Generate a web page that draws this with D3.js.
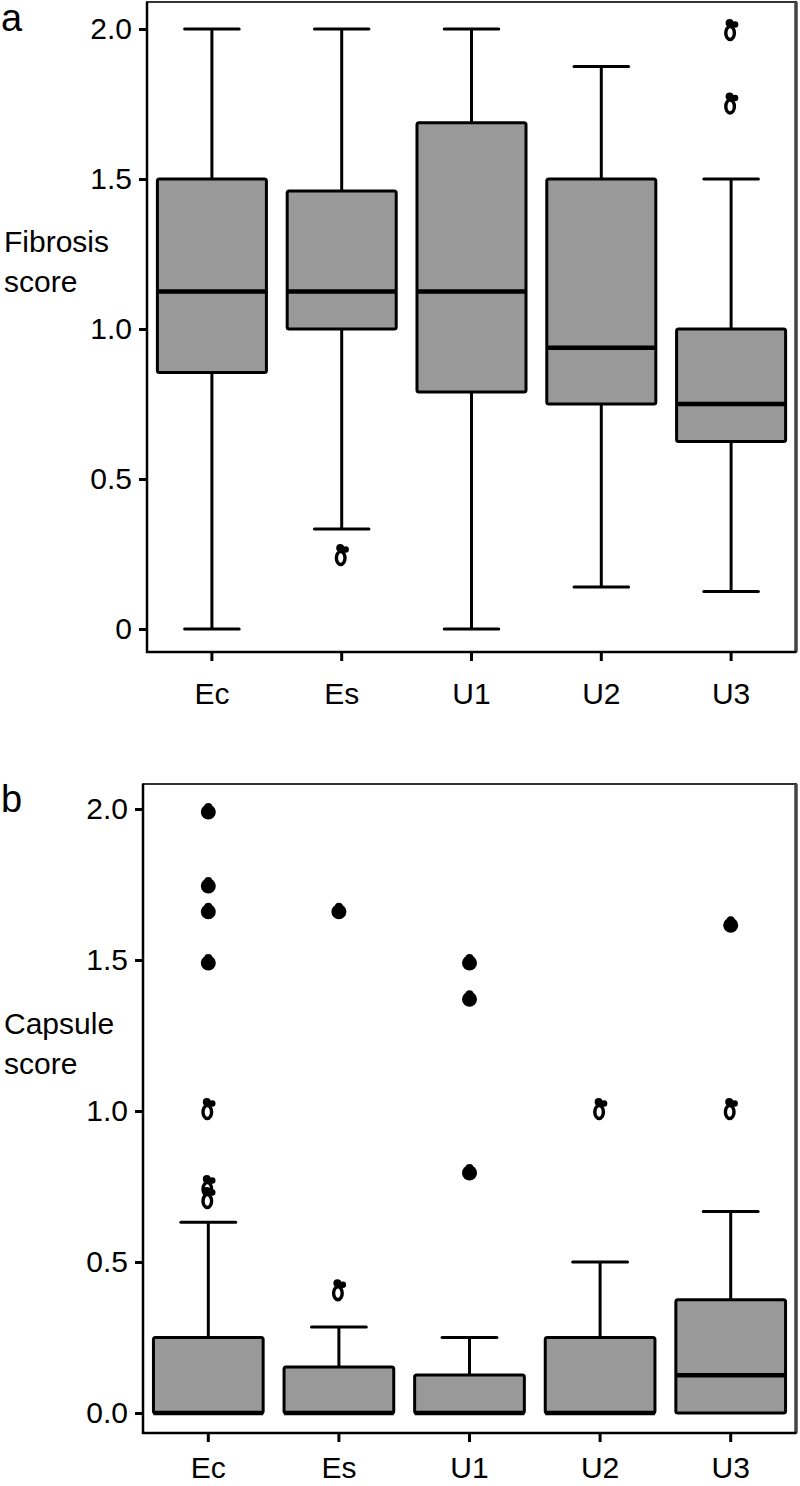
<!DOCTYPE html>
<html>
<head>
<meta charset="utf-8">
<script src="https://cdn.jsdelivr.net/npm/d3@7/dist/d3.min.js"></script>
<style>
  html, body { margin: 0; padding: 0; background: #fff; }
  svg { display: block; font-family: "Liberation Sans", Arial, Helvetica, sans-serif; }
</style>
</head>
<body>
<svg id="chart" width="800" height="1486"></svg>
<script>
(function () {
    'use strict';

    const groups = ['Ec', 'Es', 'U1', 'U2', 'U3'];

    // panel a: fibrosis score
    const fibLow = [0, 0.333, 0, 0.14, 0.125];
    const fibQ1 = [0.855, 1.0, 0.79, 0.75, 0.625];
    const fibMedian = [1.125, 1.125, 1.125, 0.9375, 0.75];
    const fibQ3 = [1.5, 1.46, 1.6875, 1.5, 1.0];
    const fibHigh = [2.0, 2.0, 2.0, 1.875, 1.5];
    const fibOutGroup = ['Es', 'U3', 'U3'];
    const fibOutValue = [0.25, 2.0, 1.755];
    const fibOutKind = ['cluster', 'cluster', 'cluster'];
    const fibTicks = [0, 0.5, 1.0, 1.5, 2.0];
    const fibTickLabels = ['0', '0.5', '1.0', '1.5', '2.0'];

    // panel b: capsule score
    const capLow = [0, 0, 0, 0, 0];
    const capQ1 = [0, 0, 0, 0, 0];
    const capMedian = [0, 0, 0, 0, 0.125];
    const capQ3 = [0.25, 0.152, 0.126, 0.25, 0.375];
    const capHigh = [0.632, 0.285, 0.25, 0.5, 0.667];
    const capOutGroup = ['Ec', 'Ec', 'Ec', 'Ec', 'Ec', 'Ec', 'Ec', 'Es', 'Es', 'U1', 'U1', 'U1', 'U2', 'U3', 'U3'];
    const capOutValue = [1.99, 1.745, 1.66, 1.49, 1.01, 0.755, 0.715, 1.66, 0.41, 1.49, 1.37, 0.795, 1.01, 1.615, 1.01];
    const capOutKind = ['dot', 'dot', 'dot', 'dot', 'cluster', 'cluster', 'cluster', 'dot', 'cluster', 'dot', 'dot', 'dot', 'cluster', 'dot', 'cluster'];
    const capTicks = [0, 0.5, 1.0, 1.5, 2.0];
    const capTickLabels = ['0.0', '0.5', '1.0', '1.5', '2.0'];

    const svg = d3.select('#chart');
    const ink = '#000';
    const boxFill = '#999999';

    const drawPanel = function (p) {
        const g = svg.append('g').attr('class', 'panel');

        const x = d3.scaleBand().domain(groups).range([p.left, p.right]).padding(0);
        const y = d3.scaleLinear().domain([0, 2]).range([p.zeroY, p.twoY]);
        const bw = x.bandwidth();
        const boxW = bw * 0.84;
        const capW = bw * 0.42;

        // panel border
        g.append('rect')
            .attr('x', p.left).attr('y', p.top)
            .attr('width', p.right - p.left).attr('height', p.bottom - p.top)
            .attr('fill', '#fff').attr('stroke', '#333').attr('stroke-width', 2);
        g.append('line')
            .attr('x1', p.right).attr('x2', p.right).attr('y1', p.top).attr('y2', p.bottom)
            .attr('stroke', '#444').attr('stroke-width', 3.5);

        const rows = groups.map(function (k, i) {
            return { key: k, low: p.low[i], q1: p.q1[i], med: p.median[i], q3: p.q3[i], high: p.high[i] };
        });

        const box = g.append('g').selectAll('g').data(rows).enter().append('g');

        // whiskers
        box.append('line')
            .attr('x1', function (d) { return x(d.key) + bw / 2; })
            .attr('x2', function (d) { return x(d.key) + bw / 2; })
            .attr('y1', function (d) { return y(d.q3); })
            .attr('y2', function (d) { return y(d.high); })
            .attr('stroke', ink).attr('stroke-width', 3);
        box.append('line')
            .attr('x1', function (d) { return x(d.key) + bw / 2; })
            .attr('x2', function (d) { return x(d.key) + bw / 2; })
            .attr('y1', function (d) { return y(d.q1); })
            .attr('y2', function (d) { return y(d.low); })
            .attr('stroke', ink).attr('stroke-width', 3);
        box.filter(function (d) { return d.high > d.q3; }).append('line')
            .attr('x1', function (d) { return x(d.key) + (bw - capW) / 2; })
            .attr('x2', function (d) { return x(d.key) + (bw + capW) / 2; })
            .attr('y1', function (d) { return y(d.high); })
            .attr('y2', function (d) { return y(d.high); })
            .attr('stroke', ink).attr('stroke-width', 3).attr('stroke-linecap', 'round');
        box.filter(function (d) { return d.low < d.q1; }).append('line')
            .attr('x1', function (d) { return x(d.key) + (bw - capW) / 2; })
            .attr('x2', function (d) { return x(d.key) + (bw + capW) / 2; })
            .attr('y1', function (d) { return y(d.low); })
            .attr('y2', function (d) { return y(d.low); })
            .attr('stroke', ink).attr('stroke-width', 3).attr('stroke-linecap', 'round');

        // boxes
        box.append('rect')
            .attr('x', function (d) { return x(d.key) + (bw - boxW) / 2; })
            .attr('y', function (d) { return y(d.q3); })
            .attr('width', boxW)
            .attr('height', function (d) { return y(d.q1) - y(d.q3); })
            .attr('rx', 2)
            .attr('fill', boxFill).attr('stroke', ink).attr('stroke-width', 3);
        box.append('line')
            .attr('x1', function (d) { return x(d.key) + (bw - boxW) / 2; })
            .attr('x2', function (d) { return x(d.key) + (bw + boxW) / 2; })
            .attr('y1', function (d) { return y(d.med); })
            .attr('y2', function (d) { return y(d.med); })
            .attr('stroke', ink).attr('stroke-width', 4.5);

        // outliers
        const outs = p.outGroup.map(function (k, i) {
            return { key: k, v: p.outValue[i], kind: p.outKind[i] };
        });
        const pts = g.append('g').selectAll('g').data(outs).enter().append('g')
            .attr('transform', function (d) {
                return 'translate(' + (x(d.key) + bw / 2) + ',' + y(d.v) + ')';
            });
        const dots = pts.filter(function (d) { return d.kind === 'dot'; });
        dots.append('circle').attr('r', 7.5).attr('fill', ink);
        dots.append('circle').attr('cy', -5).attr('r', 4).attr('fill', ink);
        const clusters = pts.filter(function (d) { return d.kind === 'cluster'; });
        clusters.append('ellipse').attr('cx', -1).attr('cy', 4).attr('rx', 4.3).attr('ry', 6.5)
            .attr('fill', '#fff').attr('stroke', ink).attr('stroke-width', 3.4);
        clusters.append('circle').attr('cx', -1.5).attr('cy', -6).attr('r', 4).attr('fill', ink);
        clusters.append('circle').attr('cx', 4).attr('cy', -4.5).attr('r', 3.2).attr('fill', ink);

        // axes
        const yAxis = d3.axisLeft(y).tickValues(p.ticks)
            .tickFormat(function (d, i) { return p.tickLabels[i]; })
            .tickSize(8).tickPadding(7).tickSizeOuter(0);
        const ya = g.append('g').attr('transform', 'translate(' + p.left + ',0)').call(yAxis);
        ya.select('.domain').remove();
        ya.selectAll('line').attr('stroke', ink).attr('stroke-width', 3);
        ya.selectAll('text').attr('fill', ink).style('font-size', '30px')
            .style('font-family', '"Liberation Sans", Arial, sans-serif');

        const xAxis = d3.axisBottom(x).tickSize(9).tickPadding(p.xPad).tickSizeOuter(0);
        const xa = g.append('g').attr('transform', 'translate(0,' + p.bottom + ')').call(xAxis);
        xa.select('.domain').remove();
        xa.selectAll('line').attr('stroke', ink).attr('stroke-width', 3);
        xa.selectAll('text').attr('fill', ink).style('font-size', '30px')
            .style('font-family', '"Liberation Sans", Arial, sans-serif');

        // axis lines (left and bottom)
        g.append('path')
            .attr('d', 'M' + p.left + ',' + p.top + 'V' + p.bottom + 'H' + p.right)
            .attr('fill', 'none').attr('stroke', ink).attr('stroke-width', 2.5);

        // labels
        const title = g.append('text').attr('fill', ink).style('font-size', '30px');
        title.append('tspan').attr('x', 4).attr('y', p.titleY).text(p.title[0]);
        title.append('tspan').attr('x', 4).attr('y', p.titleY + 40).text(p.title[1]);

        g.append('text').attr('x', 1).attr('y', p.letterY).attr('fill', ink)
            .style('font-size', '38px').text(p.letter);
    };

    drawPanel({
        left: 147, right: 796, top: 2, bottom: 652, zeroY: 629, twoY: 29,
        low: fibLow, q1: fibQ1, median: fibMedian, q3: fibQ3, high: fibHigh,
        outGroup: fibOutGroup, outValue: fibOutValue, outKind: fibOutKind,
        ticks: fibTicks, tickLabels: fibTickLabels, xPad: 22,
        title: ['Fibrosis', 'score'], titleY: 252, letter: 'a', letterY: 31
    });

    drawPanel({
        left: 143, right: 796, top: 784, bottom: 1433, zeroY: 1413, twoY: 809,
        low: capLow, q1: capQ1, median: capMedian, q3: capQ3, high: capHigh,
        outGroup: capOutGroup, outValue: capOutValue, outKind: capOutKind,
        ticks: capTicks, tickLabels: capTickLabels, xPad: 15,
        title: ['Capsule', 'score'], titleY: 1034, letter: 'b', letterY: 812
    });
}());
</script>
</body>
</html>
